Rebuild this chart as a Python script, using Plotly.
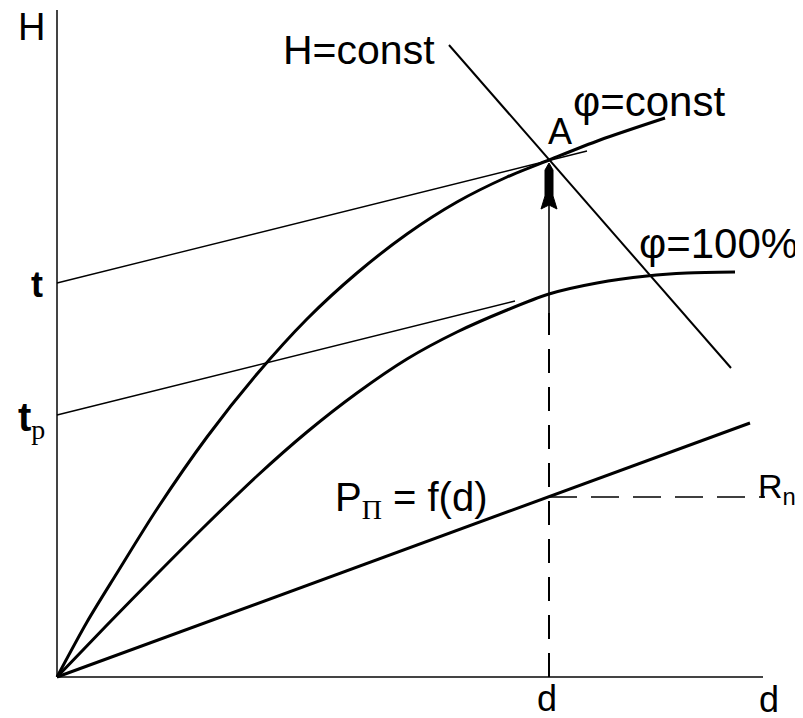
import plotly.graph_objects as go

# ---- data (diagram units: d to the right, H upward, origin at 0,0) ----
axis_d_end = 706
axis_H_end = 667

phi_const_d = [0, 30, 60, 100, 150, 200, 250, 300, 350, 400, 450, 492, 543, 608]
phi_const_H = [0, 55, 104, 168, 240, 303, 358, 404, 443, 475, 500, 517, 537, 559]

phi_100_d = [0, 50, 100, 150, 200, 250, 300, 350, 400, 450, 492, 540, 590, 630, 678]
phi_100_H = [0, 52, 103, 153, 201, 245, 284, 318, 345, 367, 383, 394, 401, 404, 405]

p_line_d = [0, 492, 693]
p_line_H = [0, 180, 254]

h_const_d = [392, 674]
h_const_H = [632, 309]

t_value = 394
tp_value = 262
t_line_d = [0, 530]
t_line_H = [t_value, 526]
tp_line_d = [0, 458]
tp_line_H = [tp_value, 376]

point_A = (492, 517)
d_point = 492
p_at_d = 180
phi100_at_d = 364
rn_end_d = 708

fig = go.Figure()

def line(xs, ys, width, color="black", dash="solid", shape="linear"):
    ln = dict(color=color, width=width, dash=dash, shape=shape)
    if shape == "spline":
        ln["smoothing"] = 0.8
    fig.add_trace(go.Scatter(x=xs, y=ys, mode="lines", line=ln,
                             hoverinfo="skip", showlegend=False))

# axes
line([0, 0], [0, axis_H_end], 2, color="#444444")
line([0, axis_d_end], [0, 0], 2, color="#444444")

# thin temperature lines
line(t_line_d, t_line_H, 1.4)
line(tp_line_d, tp_line_H, 1.4)

# curves
line(phi_const_d, phi_const_H, 3, shape="spline")
line(phi_100_d, phi_100_H, 3, shape="spline")
line(p_line_d, p_line_H, 3)
line(h_const_d, h_const_H, 2)

# dashed construction lines
line([d_point, d_point], [0, phi100_at_d], 2, dash="24px,14px")
line([d_point, rn_end_d], [p_at_d, p_at_d], 1.6, dash="28px,14px")
# solid part of vertical arrow
ax, ay = point_A
line([d_point, d_point], [phi100_at_d, ay - 45], 1.6)

# arrowhead polygon built from point A
head_x = [ax, ax + 4, ax + 4, ax + 8, ax, ax - 8, ax - 4, ax - 4, ax]
head_y = [ay - 3, ay - 10, ay - 36, ay - 49, ay - 45, ay - 49, ay - 36, ay - 10, ay - 3]
fig.add_trace(go.Scatter(x=head_x, y=head_y, mode="lines", fill="toself",
                         fillcolor="black", line=dict(color="black", width=1),
                         hoverinfo="skip", showlegend=False))

FONT = "Liberation Sans, Arial, sans-serif"

def label(text, x, y, size, xanchor="center", yanchor="middle"):
    fig.add_annotation(x=x, y=y, xref="x", yref="y", text=text, showarrow=False,
                       xanchor=xanchor, yanchor=yanchor,
                       font=dict(family=FONT, size=size, color="black"))

def px(xp, yp):
    # screen-pixel helper for label placement in the 803x718 page
    return xp - 57, 677 - yp

label("H", *px(47, 27), 38, xanchor="right")
label("H=const", *px(359, 50), 41)
label("A", *px(560, 131), 36)
label("φ=const", *px(649, 101), 42)
label("φ=100%", *px(718, 243), 42)
label("<b>t</b>", *px(45, 284), 36, xanchor="right")
label("<b>t</b><sub><span style='font-family:Liberation Serif'>p</span></sub>",
      *px(47, 420), 40, xanchor="right")
label("P<sub><span style='font-family:Liberation Serif'>П</span></sub> = f(d)", *px(411, 500), 40)
label("R<sub>n</sub>", *px(777, 488), 34)
label("d", *px(547, 698), 36)
label("d", *px(769, 699), 36)

fig.update_layout(
    width=795, height=710,
    margin=dict(l=0, r=0, t=0, b=0),
    paper_bgcolor="white", plot_bgcolor="white",
    xaxis=dict(range=[-49, 746], visible=False, fixedrange=True),
    yaxis=dict(range=[-41, 669], visible=False, fixedrange=True),
)

fig.write_html("out.html")
